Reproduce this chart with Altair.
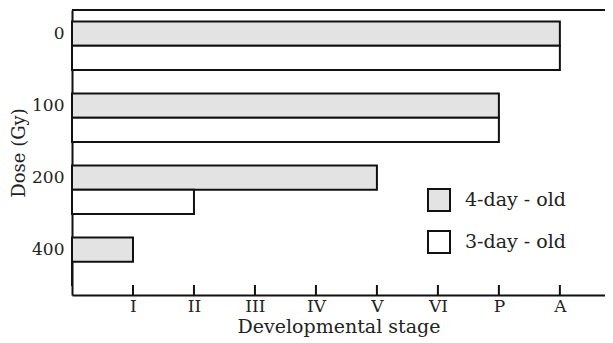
import altair as alt
import pandas as pd

doses = ["0", "100", "200", "400"]
stages = ["I", "II", "III", "IV", "V", "VI", "P", "A"]
series = ["4-day - old", "3-day - old"]
four_day = [8, 7, 5, 1]
three_day = [8, 7, 2, 0]

rows = []
for d, a, b in zip(doses, four_day, three_day):
    rows.append({"dose": d, "series": series[0], "stage": a})
    rows.append({"dose": d, "series": series[1], "stage": b})
df = pd.DataFrame(rows)
tick_df = pd.DataFrame({"stage": list(range(1, len(stages) + 1))})
one_df = pd.DataFrame({"k": [0]})

W, H = 533, 285
FONT = "DejaVu Serif"
INK = "#111111"

label_expr = "[" + ",".join(f"'{s}'" for s in stages) + "][datum.value - 1]"
xscale = alt.Scale(domain=[0, 8.74], nice=False, zero=True)
xaxis = alt.Axis(values=list(range(1, len(stages) + 1)), labelExpr=label_expr,
                 ticks=False, grid=False, title="Developmental stage",
                 labelPadding=3, titlePadding=3, labelFontSize=17)

bars = alt.Chart(df).mark_bar(stroke=INK, strokeWidth=2).encode(
    y=alt.Y("dose:N", sort=doses,
            scale=alt.Scale(paddingInner=0.326, paddingOuter=0.142, align=0.56),
            axis=alt.Axis(title="Dose (Gy)", labelOffset=-12, ticks=False,
                          labelPadding=8, titlePadding=3, labelFontSize=17,
                          titleFontSize=18)),
    yOffset=alt.YOffset("series:N", sort=series,
                        scale=alt.Scale(paddingInner=0, paddingOuter=0)),
    x=alt.X("stage:Q", scale=xscale, axis=xaxis),
    fill=alt.Fill("series:N", sort=series,
                  scale=alt.Scale(domain=series, range=["#e3e3e3", "#ffffff"]),
                  legend=alt.Legend(orient="none", legendX=355, legendY=178, title=None,
                                    symbolType="square", symbolSize=484,
                                    symbolStrokeColor=INK, symbolStrokeWidth=2,
                                    labelFont=FONT, labelFontSize=19, labelColor="#222",
                                    rowPadding=12, labelOffset=14)),
)

ticks = alt.Chart(tick_df).mark_rule(color=INK, strokeWidth=2).encode(
    x=alt.X("stage:Q", scale=xscale, axis=xaxis),
    y=alt.value(H - 10),
    y2=alt.value(H),
)

top = alt.Chart(one_df).mark_rule(color=INK, strokeWidth=2).encode(
    x=alt.value(0), x2=alt.value(W), y=alt.value(0)
)

chart = alt.layer(bars, ticks, top).properties(
    width=W, height=H,
    autosize=alt.AutoSizeParams(type="none"),
    padding={"left": 64, "top": 2, "right": 0, "bottom": 46},
).configure_view(stroke=None).configure_axis(
    domainColor=INK, domainWidth=2, labelColor="#222", labelFont=FONT,
    titleFont=FONT, titleFontSize=19, titleFontWeight="normal", titleColor="#222",
)

chart.save("out.html", embed_options={"renderer": "svg", "actions": False})
